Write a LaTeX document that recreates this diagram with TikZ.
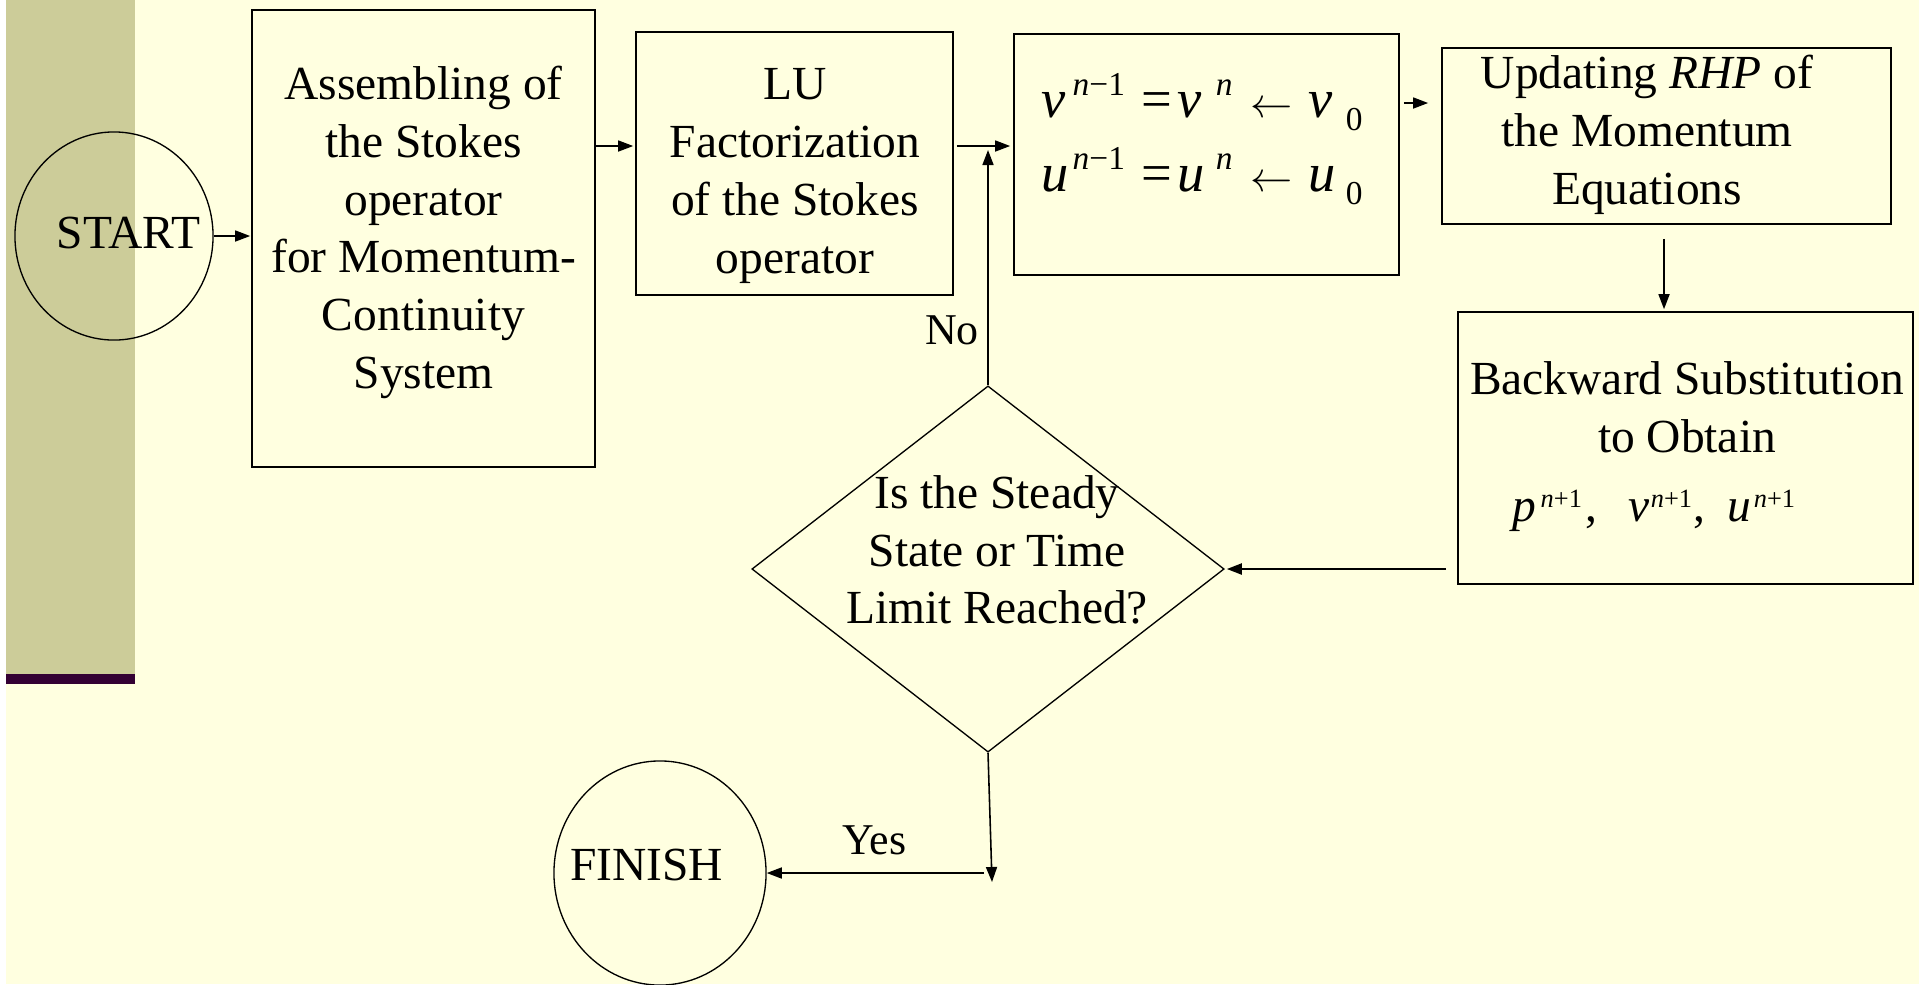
\documentclass[tikz,border=0pt]{standalone}
\usepackage{fontspec}
\setmainfont{Liberation Serif}
\usetikzlibrary{arrows.meta,shapes.geometric}

\definecolor{paper}{RGB}{255,255,224}
\definecolor{bandolive}{RGB}{204,204,153}
\definecolor{bandplum}{RGB}{51,0,51}

\newcommand\mainsize{\fontsize{13.5pt}{16.4pt}\selectfont}
\newcommand\eqsize{\fontsize{15.5pt}{18pt}\selectfont}
\newcommand\supsz{\fontsize{9.5pt}{10pt}\selectfont}
\newcommand\supr[1]{\raisebox{0.14cm}{\fontsize{7.5pt}{8pt}\selectfont #1}}
% one row of the update  x^{n-1} = x^n <- x_0
\newcommand\eqrow[1]{\eqsize
  \makebox[0.31cm][l]{\textit{#1}}%
  \makebox[0.69cm][l]{\raisebox{0.21cm}{\supsz\textit{n}−1}}%
  \makebox[0.36cm][l]{=}%
  \makebox[0.38cm][l]{\textit{#1}}%
  \makebox[0.35cm][l]{\raisebox{0.21cm}{\supsz\textit{n}}}%
  \makebox[0.58cm][l]{\fontsize{12.5pt}{15pt}\selectfont$\leftarrow$}%
  \makebox[0.37cm][l]{\textit{#1}}%
  \raisebox{-0.13cm}{\supsz 0}}

\begin{document}
\begin{tikzpicture}[x=0.01cm, y=-0.01cm,
  box/.style={draw, rectangle, line width=0.42pt, inner sep=0pt},
  oval/.style={draw, ellipse, line width=0.38pt, inner sep=0pt},
  txt/.style={inner sep=0pt, font=\mainsize, align=center},
  small/.style={inner sep=0pt, font=\fontsize{12.5pt}{15pt}\selectfont},
  flow/.style={draw, line width=0.45pt, -{Triangle[length=0.15cm,width=0.11cm]}},
]
% slide background with the side band
\fill[paper] (0,0) rectangle (1919,984);
\fill[white] (0,0) rectangle (6,984);
\fill[bandolive] (6,0) rectangle (135,674);
\fill[bandplum] (6,674) rectangle (135,684);
\useasboundingbox (0,0) rectangle (1919,984);

% terminals
\node[oval, minimum width=1.98cm, minimum height=2.08cm] (start) at (114,236) {};
\node[txt, anchor=base] (startlbl) at (128.5,248) {START};
\node[oval, minimum width=2.12cm, minimum height=2.24cm] (fin) at (660,873) {};
\node[txt, anchor=base] (finlbl) at (646.5,880) {FINISH};

% process boxes
\node[box, minimum width=3.43cm, minimum height=4.57cm] (asm) at (423.5,238.5) {};
\node[txt] (asmlbl) at (423.5,232.5) {Assembling of\\the Stokes\\operator\\for Momentum-\\Continuity\\System};

\node[box, minimum width=3.17cm, minimum height=2.63cm] (lu) at (794.5,163.5) {};
\node[txt] (lulbl) at (795,176) {LU\\Factorization\\of the Stokes\\operator};

\node[box, minimum width=3.85cm, minimum height=2.41cm] (eqbox) at (1206.5,154.5) {};
\node[inner sep=0pt, anchor=base west] (eqv) at (1041,117) {\eqrow{v}};
\node[inner sep=0pt, anchor=base west] (equ) at (1041,191) {\eqrow{u}};

\node[box, minimum width=4.49cm, minimum height=1.76cm] (upd) at (1666.5,136) {};
\node[txt] (updlbl) at (1647,135) {Updating \textit{RHP} of\\the Momentum\\Equations};

\node[box, minimum width=4.55cm, minimum height=2.72cm] (back) at (1685.5,448) {};
\node[txt] (backlbl) at (1687,407) {Backward Substitution\\to Obtain};
\node[inner sep=0pt, anchor=base west, font=\mainsize] (backmath) at (1512,521) {%
  \makebox[0.28cm][l]{\textit{p}}\makebox[0.45cm][l]{\supr{\textit{n}+1}}%
  \makebox[0.43cm][l]{,}%
  \makebox[0.22cm][l]{\textit{v}}\makebox[0.43cm][l]{\supr{\textit{n}+1}}%
  \makebox[0.34cm][l]{,}%
  \makebox[0.26cm][l]{\textit{u}}\supr{\textit{n}+1}};

% decision
\node[draw, diamond, line width=0.38pt, inner sep=0pt,
      minimum width=4.72cm, minimum height=3.66cm] (dec) at (988,569) {};
\node[txt] (declbl) at (997,550) {Is the Steady\\State or Time\\Limit Reached?};

% connectors
\draw[flow, shorten >=0.01cm] (start.east) -- (start.east -| asm.west);
\draw[flow, shorten >=0.02cm] (asm.east |- 0,146) -- (lu.west |- 0,146);
\draw[flow, shorten <=0.03cm, shorten >=0.03cm] (lu.east |- 0,146) -- (eqbox.west |- 0,146);
\draw[flow, shorten <=0.04cm, shorten >=0.13cm] (eqbox.east |- 0,103) -- (upd.west |- 0,103);
\draw[flow, shorten <=0.14cm, shorten >=0.02cm] (upd.south -| 1664,0) -- (back.north -| 1664,0);
\draw[flow, line width=0.6pt, shorten <=0.11cm, shorten >=0.02cm] (back.west |- dec.east) -- (dec.east);

% loop back on "No"
\draw[flow] (dec.north) -- (dec.north |- 0,150);
\node[small, anchor=base] (nolbl) at (952,344) {No};

% exit on "Yes"
\coordinate (yesend) at (992,882);
\coordinate (yesturn) at (984,873);
\draw[flow] (dec.south) -- (yesend);
\draw[flow] (yesturn) -- (fin.east);
\node[small, anchor=base] (yeslbl) at (874.5,854) {Yes};
\end{tikzpicture}
\end{document}
